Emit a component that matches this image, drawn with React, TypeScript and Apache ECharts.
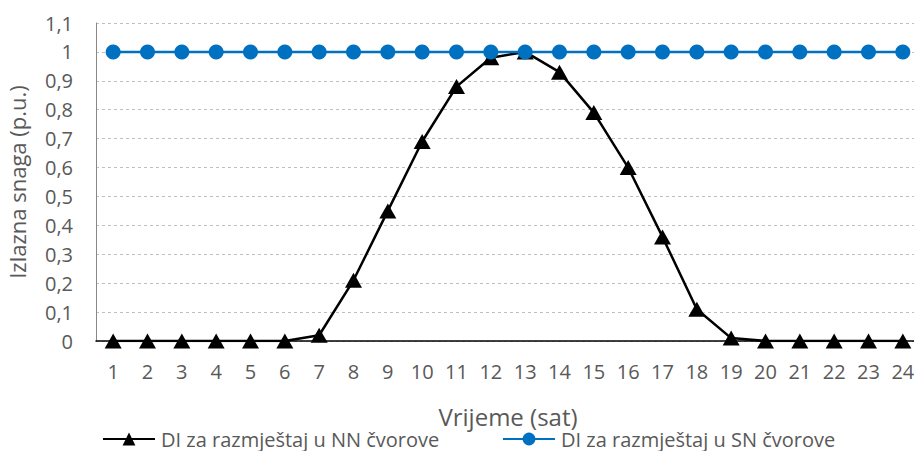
import React, { useEffect, useRef } from "react";
import * as echarts from "echarts";

const hours = ["1","2","3","4","5","6","7","8","9","10","11","12","13","14","15","16","17","18","19","20","21","22","23","24"];
const nnValues = [0, 0, 0, 0, 0, 0, 0.02, 0.21, 0.45, 0.69, 0.88, 0.98, 1.0, 0.93, 0.79, 0.6, 0.36, 0.11, 0.01, 0, 0, 0, 0, 0];
const snValues = [1, 1, 1, 1, 1, 1, 1, 1, 1, 1, 1, 1, 1, 1, 1, 1, 1, 1, 1, 1, 1, 1, 1, 1];
const nnName = "DI za razmještaj u NN čvorove";
const snName = "DI za razmještaj u SN čvorove";
const yAxisName = "Izlazna snaga (p.u.)";
const xAxisName = "Vrijeme (sat)";

const FONT = "'Open Sans', sans-serif";
const GREY = "#595959";

export default function App() {
  const ref = useRef<HTMLDivElement>(null);
  useEffect(() => {
    if (!ref.current) return;
    const chart = echarts.init(ref.current, undefined, { renderer: "svg" });
    chart.setOption({
      animation: false,
      textStyle: { fontFamily: FONT },
      grid: { left: 96, right: -6, top: 23, bottom: 110, containLabel: false, outerBoundsMode: "none" },
      legend: [
        {
          data: [nnName],
          left: 97,
          top: 424,
          itemWidth: 52,
          itemHeight: 16,
          textStyle: { fontSize: 20, color: GREY, fontFamily: FONT, padding: [0, 0, 0, 1] },
        },
        {
          data: [snName],
          left: 497,
          top: 424,
          itemWidth: 52,
          itemHeight: 16,
          textStyle: { fontSize: 20, color: GREY, fontFamily: FONT, padding: [0, 0, 0, 1] },
        },
      ],
      xAxis: {
        type: "category",
        data: hours,
        boundaryGap: true,
        name: xAxisName,
        nameLocation: "middle",
        nameGap: 63,
        nameTextStyle: { fontSize: 24, color: GREY, fontFamily: FONT },
        axisLine: { show: true, lineStyle: { color: "#000", width: 1.5 } },
        axisTick: { show: false },
        axisLabel: { fontSize: 20, color: GREY, margin: 20, fontFamily: FONT },
        splitLine: { show: false },
      },
      yAxis: {
        type: "value",
        min: 0,
        max: 1.1,
        interval: 0.1,
        name: yAxisName,
        nameLocation: "middle",
        nameGap: 68,
        nameTextStyle: { fontSize: 22, color: GREY, fontFamily: FONT },
        axisLine: { show: true, lineStyle: { color: "#888", width: 1 } },
        axisTick: { show: false },
        axisLabel: {
          fontSize: 20,
          color: GREY,
          margin: 23,
          fontFamily: FONT,
          formatter: (v: number) => String(Math.round(v * 10) / 10).replace(".", ","),
        },
        splitLine: { show: true, lineStyle: { color: "#BFBFBF", type: [3, 3], width: 1 } },
      },
      series: [
        {
          name: nnName,
          type: "line",
          data: nnValues,
          symbol: "triangle",
          symbolSize: [17, 15],
          itemStyle: { color: "#000" },
          lineStyle: { color: "#000", width: 2.5 },
          z: 2,
        },
        {
          name: snName,
          type: "line",
          data: snValues,
          symbol: "circle",
          symbolSize: 15,
          itemStyle: { color: "#0070C0" },
          lineStyle: { color: "#0070C0", width: 2.5 },
          z: 3,
        },
      ],
    });
    return () => chart.dispose();
  }, []);
  return <div ref={ref} style={{ width: 914, height: 451, position: "absolute", left: 0, top: 0 }} />;
}
